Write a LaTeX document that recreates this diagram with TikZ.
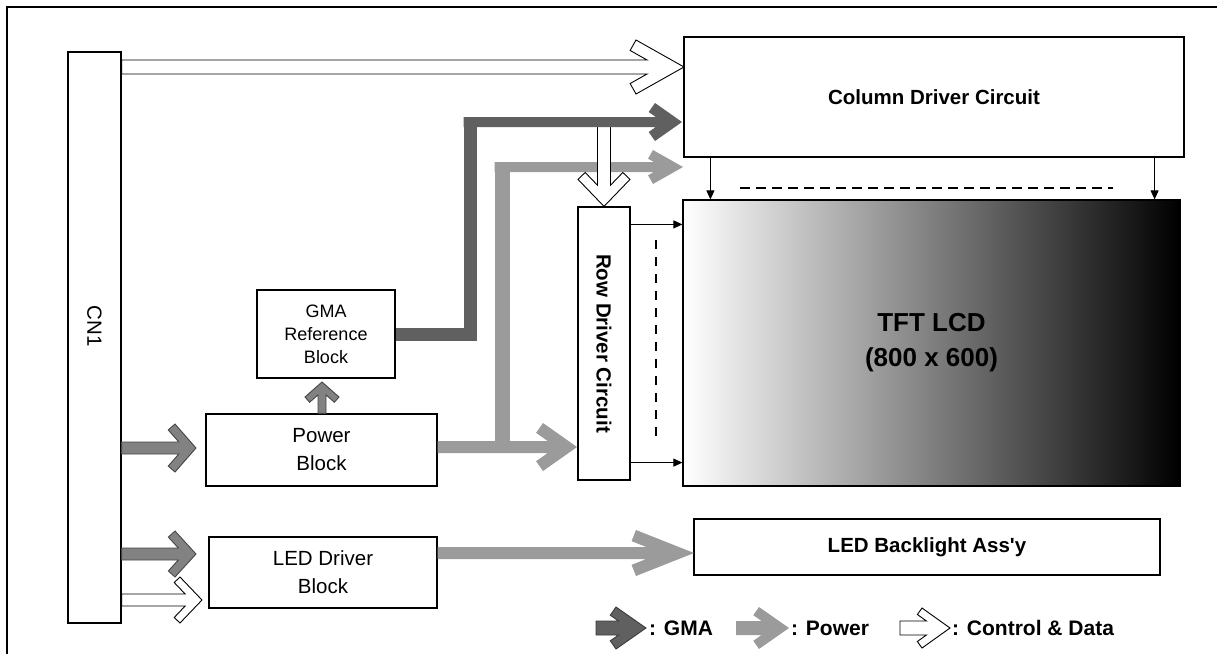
\documentclass[tikz,border=0pt]{standalone}
\usepackage{fontspec}
\setmainfont{Liberation Sans}
\usetikzlibrary{arrows.meta}

\definecolor{gmadark}{RGB}{96,96,96}
\definecolor{gmaedge}{RGB}{60,60,60}
\definecolor{pwrgray}{RGB}{155,155,155}
\definecolor{ingray}{RGB}{130,130,130}
\definecolor{inedge}{RGB}{70,70,70}

% block arrow with a chevron head: style, head length, head half height,
% arm thickness, shaft half width, from, to
\newcommand{\blkarrow}[7]{%
  \path (#6); \pgfgetlastxy{\baxa}{\baya}%
  \path (#7); \pgfgetlastxy{\baxb}{\bayb}%
  \pgfmathsetmacro{\baang}{atan2(\bayb-\baya,\baxb-\baxa)}%
  \pgfmathsetmacro{\balen}{veclen(\baxb-\baxa,\bayb-\baya)}%
  \pgfmathsetmacro{\baR}{veclen(#2,#3)}%
  \pgfmathsetmacro{\baJ}{(#4*\baR+#2*#5)/#3}%
  \pgfmathsetmacro{\baIx}{#2+#4*#3/\baR}%
  \pgfmathsetmacro{\baIy}{#3-#4*#2/\baR}%
  \begin{scope}[shift={(\baxb,\bayb)}, rotate=\baang]
    \path[#1] (-\balen pt,#5pt) -- (-\baJ pt,#5pt) -- (-\baIx pt,\baIy pt)
      -- (-#2pt,#3pt) -- (0pt,0pt) -- (-#2pt,-#3pt) -- (-\baIx pt,-\baIy pt)
      -- (-\baJ pt,-#5pt) -- (-\balen pt,-#5pt) -- cycle;
  \end{scope}}

\begin{document}
\begin{tikzpicture}[x=1pt, y=-1pt,
    blk/.style={draw, line width=1.2pt, inner sep=0pt, align=center,
      font=\fontsize{20.5}{28}\selectfont},
    bold/.style={blk, font=\fontsize{20.5}{24}\selectfont\bfseries},
    sig/.style={-{Triangle[length=9pt, width=8pt]}, line width=0.9pt},
    dashline/.style={dash pattern=on 10pt off 6pt, line width=1.8pt},
    gmabar/.style={draw=gmadark, line width=13pt},
    pwrbar/.style={draw=pwrgray, line width=15pt},
    gmafill/.style={fill=gmadark},
    pwrfill/.style={fill=pwrgray},
    ctlfill/.style={fill=white, draw=black, line width=0.9pt},
    infill/.style={fill=ingray, draw=inedge, line width=0.9pt},
    key/.style={anchor=west, inner sep=0pt, font=\fontsize{21}{24}\selectfont\bfseries}
  ]
  \useasboundingbox (0,0) rectangle (1217,654);
  \draw[line width=2pt] (6.5,654) -- (6.5,6.5) -- (1217,6.5);

  % blocks
  \node[blk, minimum width=53pt, minimum height=571pt] (cn1) at (94.5,337.5) {};
  \node[font=\fontsize{20.5}{24}\selectfont, rotate=-90] (cn1text) at (94.5,326) {CN1};
  \node[bold, minimum width=500pt, minimum height=120pt] (coldrv) at (934,97) {Column Driver Circuit};
  \node[bold, minimum width=497pt, minimum height=286pt, left color=white, middle color=black!33,
    right color=black, font=\fontsize{26}{35}\selectfont\bfseries] (tft) at (931.5,343) {TFT LCD\\(800 x 600)};
  \node[bold, minimum width=52pt, minimum height=273pt] (rowdrv) at (604,343.5) {\rotatebox{-90}{Row Driver Circuit}};
  \node[blk, minimum width=138pt, minimum height=88pt, font=\fontsize{18}{23}\selectfont] (gmaref) at (326,334) {GMA\\Reference\\Block};
  \node[blk, minimum width=231pt, minimum height=72pt] (power) at (321.5,450) {Power\\Block};
  \node[blk, minimum width=228pt, minimum height=71pt] (leddrv) at (323,572.5) {LED Driver\\Block};
  \node[bold, minimum width=466pt, minimum height=56pt] (backlight) at (927,547) {LED Backlight Ass{\addfontfeatures{Ligatures=TeXOff}'}y};

  % points on the wide arrows
  \coordinate (ctltip) at (684,67);
  \coordinate (pwrin) at (196,448);
  \coordinate (ledin) at (196,554);
  \coordinate (ledctl) at (202,600);
  \coordinate (gmaup) at (322,382);
  \coordinate (pwrtip) at (577,447);
  \coordinate (pwrsplit) at (502,447);
  \coordinate (pwrbend) at (502,162);
  \coordinate (colcorner) at (494.5,167);
  \coordinate (coltip) at (683,167);
  \coordinate (bltip) at (694,553);
  \coordinate (gmatip) at (682,122);
  \coordinate (gmabend) at (470,117);
  \coordinate (gmacorner) at (463.5,122);

  % scan and data lines
  \coordinate (cd1) at ([xshift=27pt]coldrv.south west);
  \coordinate (cd2) at ([xshift=-30pt]coldrv.south east);
  \coordinate (rd1) at ([yshift=-18pt]rowdrv.north east);
  \coordinate (rd2) at ([yshift=18pt]rowdrv.south east);
  \draw[sig] (cd1) -- (cd1 |- tft.north);
  \draw[sig] (cd2) -- (cd2 |- tft.north);
  \draw[sig] (rd1) -- (rd1 -| tft.west);
  \draw[sig] (rd2) -- (rd2 -| tft.west);
  \draw[dashline] (740,188) -- (1113,188);
  \draw[dashline, dash pattern=on 9pt off 8pt, line width=1.6pt] (656,240) -- (656,443);

  % inputs from CN1
  \blkarrow{ctlfill}{48}{27}{12}{7}{cn1.east |- ctltip}{ctltip}
  \blkarrow{infill}{21}{24}{9}{6}{cn1.east |- pwrin}{pwrin}
  \blkarrow{infill}{21}{23}{9}{6}{cn1.east |- ledin}{ledin}
  \blkarrow{ctlfill}{22}{23}{8}{6}{cn1.east |- ledctl}{ledctl}
  \blkarrow{infill}{15}{17}{7}{4}{gmaup |- power.north}{gmaup}

  % power
  \draw[pwrbar] (pwrsplit) -- (pwrbend);
  \blkarrow{pwrfill}{30}{17}{10}{5}{colcorner}{coltip}
  \blkarrow{pwrfill}{34}{24}{12}{6}{power.east |- pwrtip}{pwrtip}
  \blkarrow{pwrfill}{58}{23}{12}{6}{leddrv.east |- bltip}{bltip}

  % control into the row driver
  \blkarrow{ctlfill}{27}{26}{10}{6.5}{rowdrv.north |- gmatip}{rowdrv.north}

  % gma
  \draw[gmabar] (gmaref.east) -| (gmabend);
  \blkarrow{gmafill}{27}{19}{11}{5}{gmacorner}{gmatip}

  % key
  \node[key] (gmakey) at (649,628) {: GMA};
  \node[key] (pwrkey) at (791,628) {: Power};
  \node[key] (ctlkey) at (952,628) {: Control \& Data};
  \blkarrow{gmafill, draw=gmaedge, line width=0.9pt}{30}{21}{10}{7}{[xshift=-53pt]gmakey.west}{[xshift=-3pt]gmakey.west}
  \blkarrow{pwrfill}{30}{21}{10}{7}{[xshift=-55pt]pwrkey.west}{[xshift=-2pt]pwrkey.west}
  \blkarrow{ctlfill}{28}{20}{8}{7}{[xshift=-52pt]ctlkey.west}{[xshift=-2pt]ctlkey.west}
\end{tikzpicture}
\end{document}
